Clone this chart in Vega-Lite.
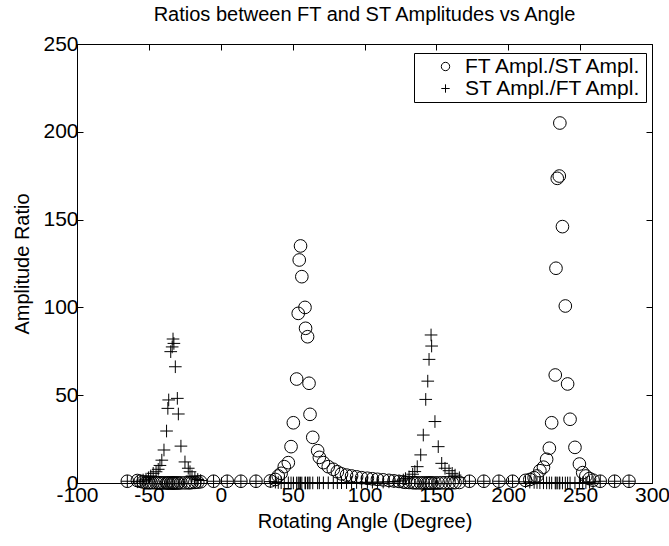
{
  "$schema": "https://vega.github.io/schema/vega-lite/v6.json",
  "width": 575,
  "height": 439,
  "autosize": {"type": "none"},
  "padding": {"left": 77, "top": 44, "right": 17, "bottom": 63},
  "background": "white",
  "title": {"text": "Ratios between FT and ST Amplitudes vs Angle", "font": "Liberation Sans", "fontSize": 20, "fontWeight": "normal", "color": "black", "offset": 8},
  "config": {
    "view": {"stroke": "black", "strokeWidth": 1},
    "axis": {
      "grid": false, "domainColor": "black", "tickColor": "black", "tickSize": -6,
      "labelFont": "Liberation Sans", "labelFontSize": 21, "labelColor": "black",
      "titleFont": "Liberation Sans", "titleFontSize": 20, "titleFontWeight": "normal", "titleColor": "black",
      "labelPadding": 7, "labelFlush": false, "labelOverlap": false
    },
    "legend": {
      "orient": "none", "legendX": 337, "legendY": 9, "fillColor": "white", "strokeColor": "black", "padding": 3,
      "symbolOffset": 18, "labelFont": "Liberation Sans", "labelFontSize": 21, "labelColor": "black", "labelLimit": 0,
      "symbolSize": 70, "symbolStrokeColor": "black", "symbolStrokeWidth": 1, "symbolFillColor": "transparent", "labelOffset": 9, "rowPadding": 0
    }
  },
  "data": {"values": [
    {"angle": -65, "ft": 1.0, "st": 1.0},
    {"angle": -58, "ft": 1.4, "st": 0.7},
    {"angle": -56, "ft": 1.0, "st": 1.0},
    {"angle": -54, "ft": 0.6, "st": 1.7},
    {"angle": -52, "ft": 0.45, "st": 2.2},
    {"angle": -50.3, "ft": 0.33, "st": 3.0},
    {"angle": -48.7, "ft": 0.25, "st": 4.0},
    {"angle": -47, "ft": 0.18, "st": 5.5},
    {"angle": -45, "ft": 0.16, "st": 6.4},
    {"angle": -43.5, "ft": 0.13, "st": 7.8},
    {"angle": -42.3, "ft": 0.1, "st": 10},
    {"angle": -41, "ft": 0.08, "st": 13},
    {"angle": -39.5, "ft": 0.05, "st": 18.8},
    {"angle": -37.7, "ft": 0.03, "st": 29.6},
    {"angle": -36.8, "ft": 0.02, "st": 42.5},
    {"angle": -36.2, "ft": 0.02, "st": 47.3},
    {"angle": -34.8, "ft": 0.013, "st": 74.8},
    {"angle": -33.8, "ft": 0.013, "st": 77.5},
    {"angle": -33.2, "ft": 0.012, "st": 82},
    {"angle": -32.6, "ft": 0.013, "st": 79.5},
    {"angle": -31.6, "ft": 0.015, "st": 66.2},
    {"angle": -30.2, "ft": 0.02, "st": 48.2},
    {"angle": -29.5, "ft": 0.025, "st": 39.3},
    {"angle": -27.7, "ft": 0.05, "st": 21},
    {"angle": -24.9, "ft": 0.08, "st": 12},
    {"angle": -22.6, "ft": 0.12, "st": 8.4},
    {"angle": -21.4, "ft": 0.16, "st": 6.4},
    {"angle": -20, "ft": 0.25, "st": 4},
    {"angle": -18, "ft": 0.35, "st": 2.8},
    {"angle": -16, "ft": 0.5, "st": 2.0},
    {"angle": -14, "ft": 0.7, "st": 1.4},
    {"angle": -5, "ft": 1.0, "st": 1.0},
    {"angle": 4.5, "ft": 1.0, "st": 1.0},
    {"angle": 14, "ft": 1.0, "st": 1.0},
    {"angle": 24.5, "ft": 1.0, "st": 1.0},
    {"angle": 34.5, "ft": 1.2, "st": 0.8},
    {"angle": 38, "ft": 2.0, "st": 0.5},
    {"angle": 40, "ft": 4.0, "st": 0.25},
    {"angle": 42, "ft": 5.5, "st": 0.18},
    {"angle": 44.2, "ft": 9.3, "st": 0.1},
    {"angle": 47, "ft": 11.6, "st": 0.09},
    {"angle": 48.9, "ft": 20.7, "st": 0.05},
    {"angle": 50.5, "ft": 34.3, "st": 0.03},
    {"angle": 52.8, "ft": 59.2, "st": 0.017},
    {"angle": 53.9, "ft": 96.6, "st": 0.01},
    {"angle": 54.6, "ft": 127, "st": 0.008},
    {"angle": 55.5, "ft": 135, "st": 0.007},
    {"angle": 56.4, "ft": 117.5, "st": 0.009},
    {"angle": 58.6, "ft": 100, "st": 0.01},
    {"angle": 59, "ft": 88.1, "st": 0.011},
    {"angle": 60.4, "ft": 83.3, "st": 0.012},
    {"angle": 61.4, "ft": 56.8, "st": 0.018},
    {"angle": 62.1, "ft": 39.1, "st": 0.026},
    {"angle": 64, "ft": 26, "st": 0.04},
    {"angle": 67.4, "ft": 18.4, "st": 0.05},
    {"angle": 68.6, "ft": 14.6, "st": 0.07},
    {"angle": 71.4, "ft": 11.6, "st": 0.09},
    {"angle": 74.8, "ft": 9.3, "st": 0.1},
    {"angle": 78.3, "ft": 7.8, "st": 0.13},
    {"angle": 81.1, "ft": 6.4, "st": 0.16},
    {"angle": 84, "ft": 5.2, "st": 0.19},
    {"angle": 87.5, "ft": 4.5, "st": 0.22},
    {"angle": 91, "ft": 4.0, "st": 0.25},
    {"angle": 94.5, "ft": 3.5, "st": 0.29},
    {"angle": 98, "ft": 3.0, "st": 0.33},
    {"angle": 102, "ft": 2.7, "st": 0.37},
    {"angle": 105.5, "ft": 2.4, "st": 0.42},
    {"angle": 109, "ft": 2.1, "st": 0.48},
    {"angle": 113, "ft": 1.8, "st": 0.55},
    {"angle": 117, "ft": 1.5, "st": 0.65},
    {"angle": 120.5, "ft": 1.2, "st": 0.8},
    {"angle": 124, "ft": 0.9, "st": 1.1},
    {"angle": 127, "ft": 0.6, "st": 1.7},
    {"angle": 128.5, "ft": 0.4, "st": 2.5},
    {"angle": 131, "ft": 0.3, "st": 3.5},
    {"angle": 133.5, "ft": 0.2, "st": 5},
    {"angle": 135, "ft": 0.15, "st": 6.5},
    {"angle": 136.7, "ft": 0.11, "st": 9.3},
    {"angle": 139.1, "ft": 0.06, "st": 16},
    {"angle": 140.9, "ft": 0.04, "st": 27.3},
    {"angle": 142.6, "ft": 0.02, "st": 47.6},
    {"angle": 144, "ft": 0.017, "st": 58},
    {"angle": 144.9, "ft": 0.014, "st": 70.4},
    {"angle": 146.3, "ft": 0.012, "st": 84.3},
    {"angle": 146.7, "ft": 0.013, "st": 78},
    {"angle": 149, "ft": 0.03, "st": 35},
    {"angle": 151.3, "ft": 0.05, "st": 20.7},
    {"angle": 153.7, "ft": 0.09, "st": 11.2},
    {"angle": 156, "ft": 0.12, "st": 8.4},
    {"angle": 158.8, "ft": 0.14, "st": 7},
    {"angle": 161, "ft": 0.18, "st": 5.5},
    {"angle": 163, "ft": 0.22, "st": 4.5},
    {"angle": 166, "ft": 0.33, "st": 3},
    {"angle": 173, "ft": 1.0, "st": 1.0},
    {"angle": 183, "ft": 1.0, "st": 1.0},
    {"angle": 193.5, "ft": 1.0, "st": 1.0},
    {"angle": 203, "ft": 1.0, "st": 1.0},
    {"angle": 212, "ft": 1.5, "st": 0.7},
    {"angle": 215, "ft": 2.0, "st": 0.5},
    {"angle": 218, "ft": 3.0, "st": 0.33},
    {"angle": 220, "ft": 4.0, "st": 0.25},
    {"angle": 222, "ft": 7, "st": 0.14},
    {"angle": 224.5, "ft": 9, "st": 0.11},
    {"angle": 226.7, "ft": 13.5, "st": 0.07},
    {"angle": 228.6, "ft": 19.8, "st": 0.05},
    {"angle": 230.2, "ft": 34.3, "st": 0.03},
    {"angle": 232.7, "ft": 61.5, "st": 0.016},
    {"angle": 233.2, "ft": 122.3, "st": 0.008},
    {"angle": 234.1, "ft": 173.5, "st": 0.006},
    {"angle": 235.5, "ft": 174.8, "st": 0.006},
    {"angle": 235.9, "ft": 205, "st": 0.005},
    {"angle": 237.7, "ft": 146, "st": 0.007},
    {"angle": 239.7, "ft": 100.8, "st": 0.01},
    {"angle": 241.3, "ft": 56.4, "st": 0.018},
    {"angle": 243, "ft": 36.3, "st": 0.028},
    {"angle": 246.4, "ft": 20.3, "st": 0.05},
    {"angle": 249.5, "ft": 10.8, "st": 0.09},
    {"angle": 251.8, "ft": 5.9, "st": 0.17},
    {"angle": 254, "ft": 4, "st": 0.25},
    {"angle": 256.5, "ft": 2.5, "st": 0.4},
    {"angle": 259, "ft": 1.6, "st": 0.6},
    {"angle": 264, "ft": 1.0, "st": 1.0},
    {"angle": 274, "ft": 1.0, "st": 1.0},
    {"angle": 284, "ft": 1.0, "st": 1.0}
  ]},
  "transform": [{"fold": ["ft", "st"], "as": ["series", "value"]}],
  "layer": [
    {
      "mark": {"type": "point", "filled": false, "color": "black", "strokeWidth": 1, "size": 160, "opacity": 1, "clip": false},
      "encoding": {
        "x": {"field": "angle", "type": "quantitative", "scale": {"domain": [-100, 300], "nice": false, "zero": false},
              "axis": {"title": "Rotating Angle (Degree)", "values": [-100, -50, 0, 50, 100, 150, 200, 250, 300], "titlePadding": 6, "labelExpr": "replace(datum.label, '\u2212', '-')"}},
        "y": {"field": "value", "type": "quantitative", "scale": {"domain": [0, 250], "nice": false},
              "axis": {"title": "Amplitude Ratio", "values": [0, 50, 100, 150, 200, 250], "titlePadding": 10, "labelPadding": 5}},
        "shape": {"field": "series", "type": "nominal",
                  "scale": {"domain": ["ft", "st"], "range": ["circle", "M-1,0H1M0,-1V1"]},
                  "legend": {"title": null, "labelExpr": "datum.label == 'ft' ? 'FT Ampl./ST Ampl.\u00a0\u00a0\u00a0' : 'ST Ampl./FT Ampl.\u00a0\u00a0\u00a0'"}}
      }
    },
    {
      "mark": {"type": "point", "opacity": 0},
      "encoding": {
        "x": {"field": "angle", "type": "quantitative", "axis": {"orient": "top", "labels": false, "title": null, "domain": false, "minExtent": 0, "maxExtent": 0, "values": [-100, -50, 0, 50, 100, 150, 200, 250, 300]}},
        "y": {"field": "value", "type": "quantitative", "axis": {"orient": "right", "labels": false, "title": null, "domain": false, "minExtent": 0, "maxExtent": 0, "values": [0, 50, 100, 150, 200, 250]}}
      }
    }
  ],
  "resolve": {"axis": {"x": "independent", "y": "independent"}}
}
